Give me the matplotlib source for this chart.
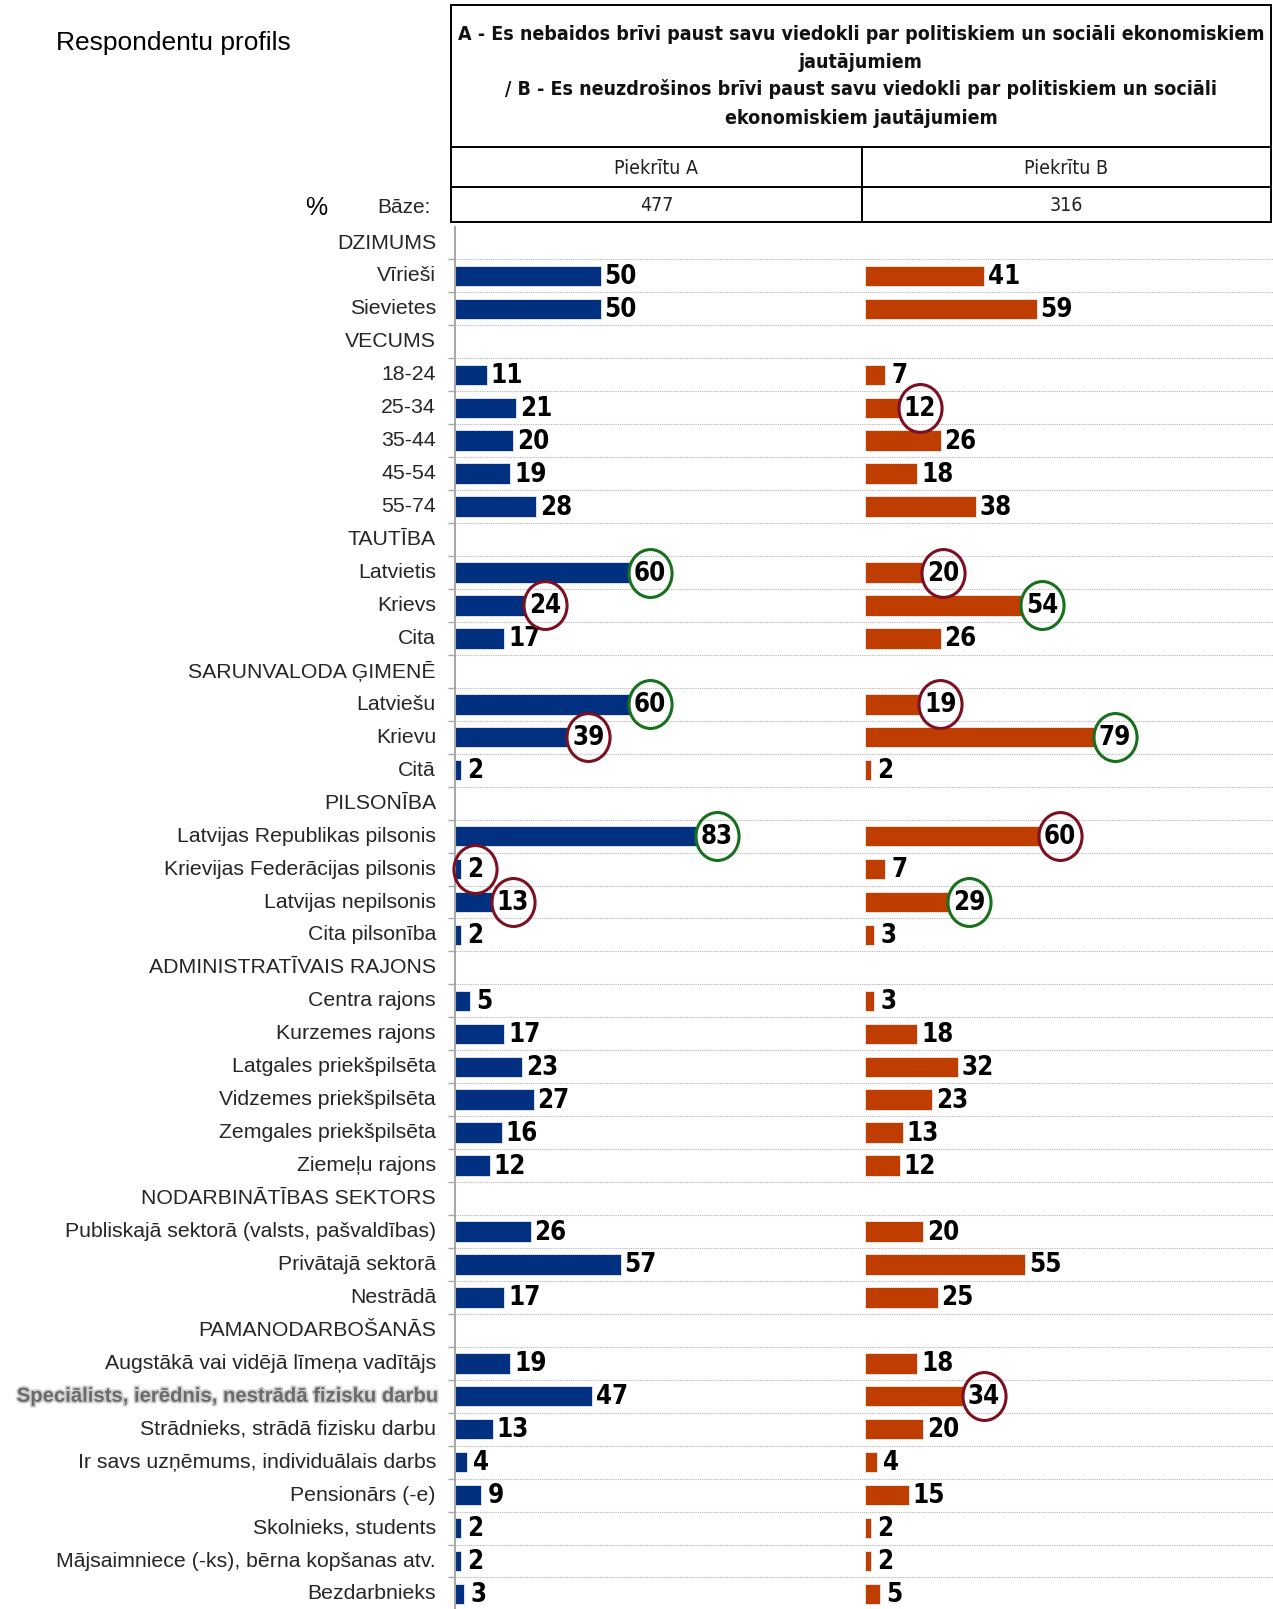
import matplotlib
matplotlib.use("Agg")
import matplotlib.pyplot as plt
from matplotlib.transforms import offset_copy, blended_transform_factory, Affine2D
from matplotlib.path import Path
from matplotlib.markers import MarkerStyle
import matplotlib.patheffects as pe

# --- data ---
categories = [
    "DZIMUMS", "Vīrieši", "Sievietes",
    "VECUMS", "18-24", "25-34", "35-44", "45-54", "55-74",
    "TAUTĪBA", "Latvietis", "Krievs", "Cita",
    "SARUNVALODA ĢIMENĒ", "Latviešu", "Krievu", "Citā",
    "PILSONĪBA", "Latvijas Republikas pilsonis", "Krievijas Federācijas pilsonis",
    "Latvijas nepilsonis", "Cita pilsonība",
    "ADMINISTRATĪVAIS RAJONS", "Centra rajons", "Kurzemes rajons",
    "Latgales priekšpilsēta", "Vidzemes priekšpilsēta", "Zemgales priekšpilsēta",
    "Ziemeļu rajons",
    "NODARBINĀTĪBAS SEKTORS", "Publiskajā sektorā (valsts, pašvaldības)",
    "Privātajā sektorā", "Nestrādā",
    "PAMANODARBOŠANĀS", "Augstākā vai vidējā līmeņa vadītājs",
    "Speciālists, ierēdnis, nestrādā fizisku darbu",
    "Strādnieks, strādā fizisku darbu", "Ir savs uzņēmums, individuālais darbs",
    "Pensionārs (-e)", "Skolnieks, students",
    "Mājsaimniece (-ks), bērna kopšanas atv.", "Bezdarbnieks",
]
piekritu_a = [None, 50, 50, None, 11, 21, 20, 19, 28, None, 60, 24, 17, None, 60, 39, 2,
              None, 83, 2, 13, 2, None, 5, 17, 23, 27, 16, 12, None, 26, 57, 17,
              None, 19, 47, 13, 4, 9, 2, 2, 3]
piekritu_b = [None, 41, 59, None, 7, 12, 26, 18, 38, None, 20, 54, 26, None, 19, 79, 2,
              None, 60, 7, 29, 3, None, 3, 18, 32, 23, 13, 12, None, 20, 55, 25,
              None, 18, 34, 20, 4, 15, 2, 2, 5]
# highlighted values: "low" = red circle, "high" = green circle
marks_a = {"Latvietis": "high", "Krievs": "low", "Latviešu": "high", "Krievu": "low",
           "Latvijas Republikas pilsonis": "high", "Krievijas Federācijas pilsonis": "low",
           "Latvijas nepilsonis": "low"}
marks_b = {"25-34": "low", "Latvietis": "low", "Krievs": "high", "Latviešu": "low",
           "Krievu": "high", "Latvijas Republikas pilsonis": "low",
           "Latvijas nepilsonis": "high", "Speciālists, ierēdnis, nestrādā fizisku darbu": "low"}
highlight_label = "Speciālists, ierēdnis, nestrādā fizisku darbu"
bases = ["477", "316"]
col_titles = ["Piekrītu A", "Piekrītu B"]
question = ["A - Es nebaidos brīvi paust savu viedokli par politiskiem un sociāli ekonomiskiem",
            "jautājumiem",
            "/ B - Es neuzdrošinos brīvi paust savu viedokli par politiskiem un sociāli",
            "ekonomiskiem jautājumiem"]

BLUE = "#00307f"
ORANGE = "#c03d00"
RED_C = "#7d1020"
GREEN_C = "#17701c"
NARROW = dict(family="DejaVu Sans", fontstretch="condensed")
SANS = ["Liberation Sans", "DejaVu Sans"]

W, H = 1273, 1609
fig = plt.figure(figsize=(W / 100, H / 100), dpi=100)

y0, step = 243, 32.95
top = y0 - step / 2
bot = y0 + (len(categories) - 0.5) * step
px_per_unit = 2.91

axA = fig.add_axes([455 / W, 1 - bot / H, (865 - 455) / W, (bot - top) / H])
axB = fig.add_axes([865 / W, 1 - bot / H, (1273 - 865) / W, (bot - top) / H])

ellipse = MarkerStyle(Path.unit_circle().transformed(Affine2D().scale(0.9, 1.0)))

for ax, vals, color, marks, width_px in [(axA, piekritu_a, BLUE, marks_a, 410),
                                         (axB, piekritu_b, ORANGE, marks_b, 408)]:
    n = len(categories)
    ax.set_ylim(n - 0.5, -0.5)
    ax.set_xlim(0, width_px / px_per_unit)
    for i in range(n - 1):
        ax.axhline(i + 0.5, color="#b5b5b5", lw=0.8, ls=(0, (1, 1)), zorder=0)
    idx = [i for i, v in enumerate(vals) if v is not None]
    ax.barh(idx, [vals[i] for i in idx], height=0.62, color=color,
            edgecolor="#e8ecf4", linewidth=0.6, zorder=2)
    for i in idx:
        v = vals[i]
        s = str(v)
        off = 9 + 5.5 * len(s)
        trans = offset_copy(ax.transData, fig=fig, x=off, y=-1, units="dots")
        ax.text(v, i, s, transform=trans, ha="center", va="center", fontsize=18.5,
                fontweight="bold", color="black", zorder=4, clip_on=False, **NARROW)
        m = marks.get(categories[i])
        if m:
            ax.plot([v], [i], marker=ellipse, ms=34.5, mfc="none",
                    mec=RED_C if m == "low" else GREEN_C, mew=2.2,
                    transform=offset_copy(ax.transData, fig=fig, x=off, y=0, units="dots"),
                    clip_on=False, zorder=5)
    ax.set_xticks([])
    for sp in ["top", "right", "bottom"]:
        ax.spines[sp].set_visible(False)
    ax.patch.set_alpha(0)

axA.spines["left"].set_color("#a8a8a8")
axA.spines["left"].set_linewidth(1.5)
axA.set_yticks([i + 0.5 for i in range(len(categories) - 1)])
axA.set_yticklabels([])
axA.tick_params(axis="y", length=5, color="#a8a8a8", width=1)
axB.spines["left"].set_visible(False)
axB.set_yticks([])

# row labels
lab_trans = blended_transform_factory(fig.transFigure, axA.transData)
for i, c in enumerate(categories):
    if c == highlight_label:
        fig.text(437 / W, i, c, transform=lab_trans, ha="right", va="center",
                 fontsize=14.6, family=SANS, fontweight="bold", color="#6a6a6a",
                 path_effects=[pe.withStroke(linewidth=2.5, foreground="#d0d0d0")])
    else:
        fig.text(436 / W, i, c, transform=lab_trans, ha="right", va="center",
                 fontsize=15.3, family=SANS, color="#262626")

# header table
ov = fig.add_axes([0, 0, 1, 1], zorder=-1)
ov.set_xlim(0, W)
ov.set_ylim(H, 0)
ov.axis("off")
x_l, x_m, x_r = 451, 862, 1271
for y in [5, 147, 187, 222]:
    ov.plot([x_l, x_r], [y, y], color="black", lw=1.4)
ov.plot([x_l, x_l], [5, 222], color="black", lw=1.4)
ov.plot([x_r, x_r], [5, 222], color="black", lw=1.4)
ov.plot([x_m, x_m], [147, 222], color="black", lw=1.4)
for y, line in zip([34, 62, 89, 118], question):
    ov.text((x_l + x_r) / 2, y, line, ha="center", va="center", fontsize=14,
            fontweight="bold", color="#111111", **NARROW)
for xc, t, b in zip([(x_l + x_m) / 2, (x_m + x_r) / 2], col_titles, bases):
    ov.text(xc, 168, t, ha="center", va="center", fontsize=14, color="#222222", **NARROW)
    ov.text(xc, 205, b, ha="center", va="center", fontsize=14, color="#222222", **NARROW)

ov.text(56, 43, "Respondentu profils", ha="left", va="center", fontsize=19, family=SANS,
        color="black")
ov.text(316, 208, "%", ha="center", va="center", fontsize=18, family=SANS, color="black")
ov.text(431, 207, "Bāze:", ha="right", va="center", fontsize=15, family=SANS, color="#262626")

fig.savefig("out.png", dpi=100)
